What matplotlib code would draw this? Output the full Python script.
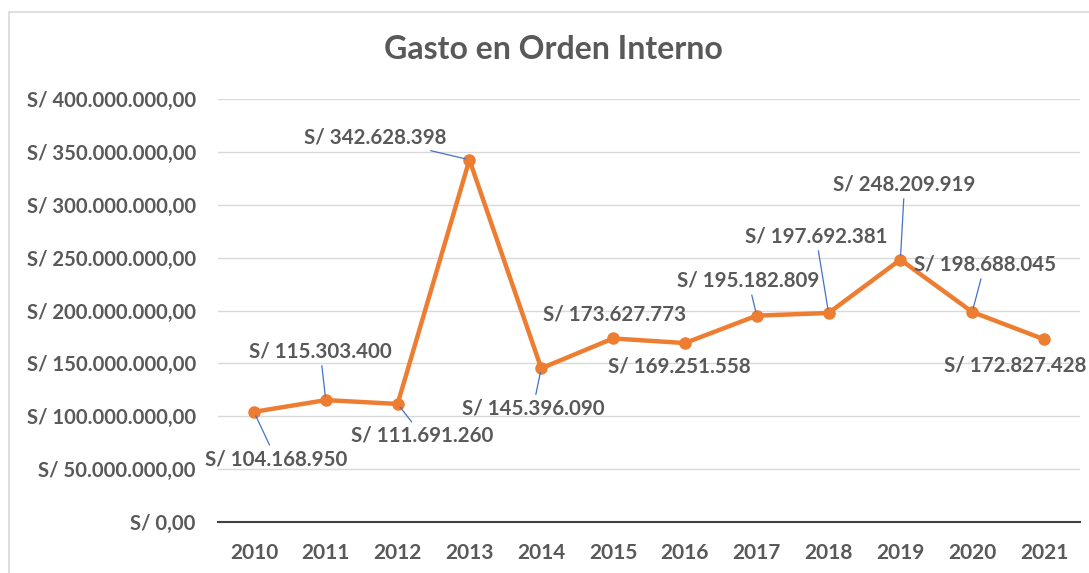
import matplotlib.pyplot as plt
from matplotlib.patches import Rectangle

years = ["2010", "2011", "2012", "2013", "2014", "2015",
         "2016", "2017", "2018", "2019", "2020", "2021"]
gasto = [104168950, 115303400, 111691260, 342628398, 145396090, 173627773,
         169251558, 195182809, 197692381, 248209919, 198688045, 172827428]
yticks = [0, 50e6, 100e6, 150e6, 200e6, 250e6, 300e6, 350e6, 400e6]

# label offsets in points, and whether a leader line is drawn
offsets = [(16, -34), (-4, 35), (18, -23), (-68, 16), (-6, -29), (1, 17),
           (-4, -17), (-6, 25), (-9, 55), (3, 54), (9, 34), (-21, -19)]
leaders = [True, True, True, True, True, False,
           False, True, True, True, True, False]

gris = "#595959"
naranja = "#ED7D31"
azul = "#4472C4"

plt.rcParams["font.family"] = ["Lato", "DejaVu Sans"]

fig = plt.figure(figsize=(10.89, 5.73), dpi=100)
ax = fig.add_axes([0.2002, 0.089, 0.7915, 0.738])

x = list(range(len(years)))
ax.plot(x, gasto, color=naranja, lw=3.2, marker="o", ms=8, zorder=3,
        solid_capstyle="round")

def fmt_label(v):
    return "S/ " + f"{v:,}".replace(",", ".")

def fmt_tick(v):
    if v == 0:
        return "S/ 0,00"
    return "S/ " + f"{int(v):,}".replace(",", ".") + ",00"

for i, v in enumerate(gasto):
    ap = None
    if leaders[i]:
        ap = dict(arrowstyle="-", color=azul, lw=0.9, shrinkA=1, shrinkB=3)
    ax.annotate(fmt_label(v), (x[i], v), xytext=offsets[i],
                textcoords="offset points", ha="center", va="center",
                fontsize=14.8, fontweight="bold", color=gris,
                arrowprops=ap, zorder=4)

ax.set_xlim(-0.5, len(years) - 0.5)
ax.set_ylim(0, 400e6)
ax.set_yticks(yticks)
ax.set_yticklabels([fmt_tick(t) for t in yticks])
ax.set_xticks(x)
ax.set_xticklabels(years)
ax.tick_params(length=0, labelcolor=gris)
ax.tick_params(axis="y", pad=16, labelsize=14.6)
ax.tick_params(axis="x", pad=15, labelsize=15)
for lab in ax.get_xticklabels() + ax.get_yticklabels():
    lab.set_fontweight("bold")

ax.grid(axis="y", color="#D9D9D9", lw=1)
ax.set_axisbelow(True)
for s in ["top", "right", "left"]:
    ax.spines[s].set_visible(False)
ax.spines["bottom"].set_color("#404040")
ax.spines["bottom"].set_linewidth(1.5)

fig.text(0.508, 0.913, "Gasto en Orden Interno", ha="center", va="center",
         fontsize=23, fontweight="bold", color=gris)

fig.patches.append(Rectangle((0.008, -0.01), 1.05, 0.989, transform=fig.transFigure,
                             fill=False, edgecolor="#D9D9D9", lw=1.2))

plt.savefig("out.png", dpi=100)
